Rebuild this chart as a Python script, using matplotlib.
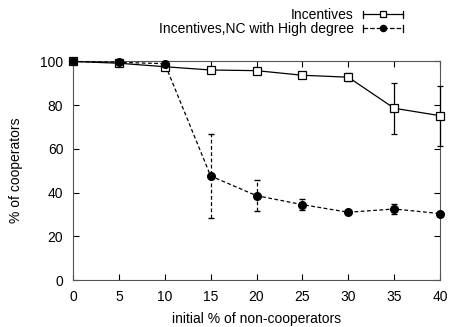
import numpy as np
import matplotlib
matplotlib.use("Agg")
from matplotlib import pyplot as plt
from matplotlib.lines import Line2D
from matplotlib.legend_handler import HandlerBase

plt.rcParams['font.family'] = ['Liberation Sans', 'DejaVu Sans']
plt.rcParams['font.size'] = 10

# data
x = [0, 5, 10, 15, 20, 25, 30, 35, 40]
inc = [100, 99.2, 97.6, 96.1, 95.8, 93.7, 92.8, 78.6, 75.2]
inc_err = [0.3, 0.5, 0.8, 0.8, 0.8, 0.8, 1.8, 11.6, 13.8]
nc = [100, 99.6, 99.0, 47.6, 38.6, 34.5, 31.0, 32.5, 30.4]
nc_err = [0.3, 0.4, 0.5, 19.0, 7.2, 2.5, 0.9, 2.5, 0.9]

DASH = (0, (3, 2))


class CapLineHandler(HandlerBase):
    """gnuplot style key: line with marker in the middle and caps at both ends"""
    def create_artists(self, legend, orig, xd, yd, width, height, fontsize, trans):
        y = yd + height / 2
        ls = orig.get_linestyle()
        line = Line2D([xd, xd + width], [y, y], color='black', lw=0.9, ls=ls)
        cap_l = Line2D([xd, xd], [y - 2.5, y + 2.5], color='black', lw=0.9)
        cap_r = Line2D([xd + width, xd + width], [y - 2.5, y + 2.5],
                       color='black', lw=0.9)
        mk = Line2D([xd + width / 2], [y], marker=orig.get_marker(),
                    ms=orig.get_markersize(), mfc=orig.get_markerfacecolor(),
                    mec='black', mew=0.9, ls='none')
        arts = [line, cap_l, cap_r, mk]
        for a in arts:
            a.set_transform(trans)
        return arts


fig = plt.figure(figsize=(4.49, 3.27), dpi=100)
ax = fig.add_axes([0.1626, 0.1437, 0.8174, 0.6683])

e1 = ax.errorbar(x, inc, yerr=inc_err, color='black', lw=0.9, marker='s',
                 ms=5.5, mfc='white', mec='black', mew=0.9, capsize=2,
                 elinewidth=0.9, zorder=3)
e2 = ax.errorbar(x, nc, yerr=nc_err, color='black', lw=0.9, ls=DASH,
                 marker='o', ms=5.5, mfc='black', mec='black', capsize=2,
                 elinewidth=0.9, zorder=4)
e2[2][0].set_linestyle(DASH)
for eb in (e1, e2):
    for art in eb.get_children():
        art.set_clip_on(False)

ax.set_xlim(0, 40)
ax.set_ylim(0, 100)
ax.set_xticks(range(0, 41, 5))
ax.set_yticks(range(0, 101, 20))
ax.tick_params(direction='in', top=True, right=True, length=4, width=0.8,
               pad=7, colors='black')
for s in ax.spines.values():
    s.set_color('#555555')
    s.set_linewidth(0.8)

ax.set_xlabel('initial % of non-cooperators', labelpad=6)
ax.set_ylabel('% of cooperators', labelpad=12)

h1 = Line2D([], [], marker='s', ms=5, mfc='white', ls='-')
h2 = Line2D([], [], marker='o', ms=4.5, mfc='black', ls=DASH)
fig.legend([h1, h2], ['Incentives', 'Incentives,NC with High degree'],
           loc='upper right', bbox_to_anchor=(0.8976, 0.975), frameon=False,
           markerfirst=False, handlelength=2.9, handletextpad=0.65,
           labelspacing=0.0, borderpad=0, borderaxespad=0,
           handler_map={Line2D: CapLineHandler()})

fig.savefig('out.png', dpi=100)
